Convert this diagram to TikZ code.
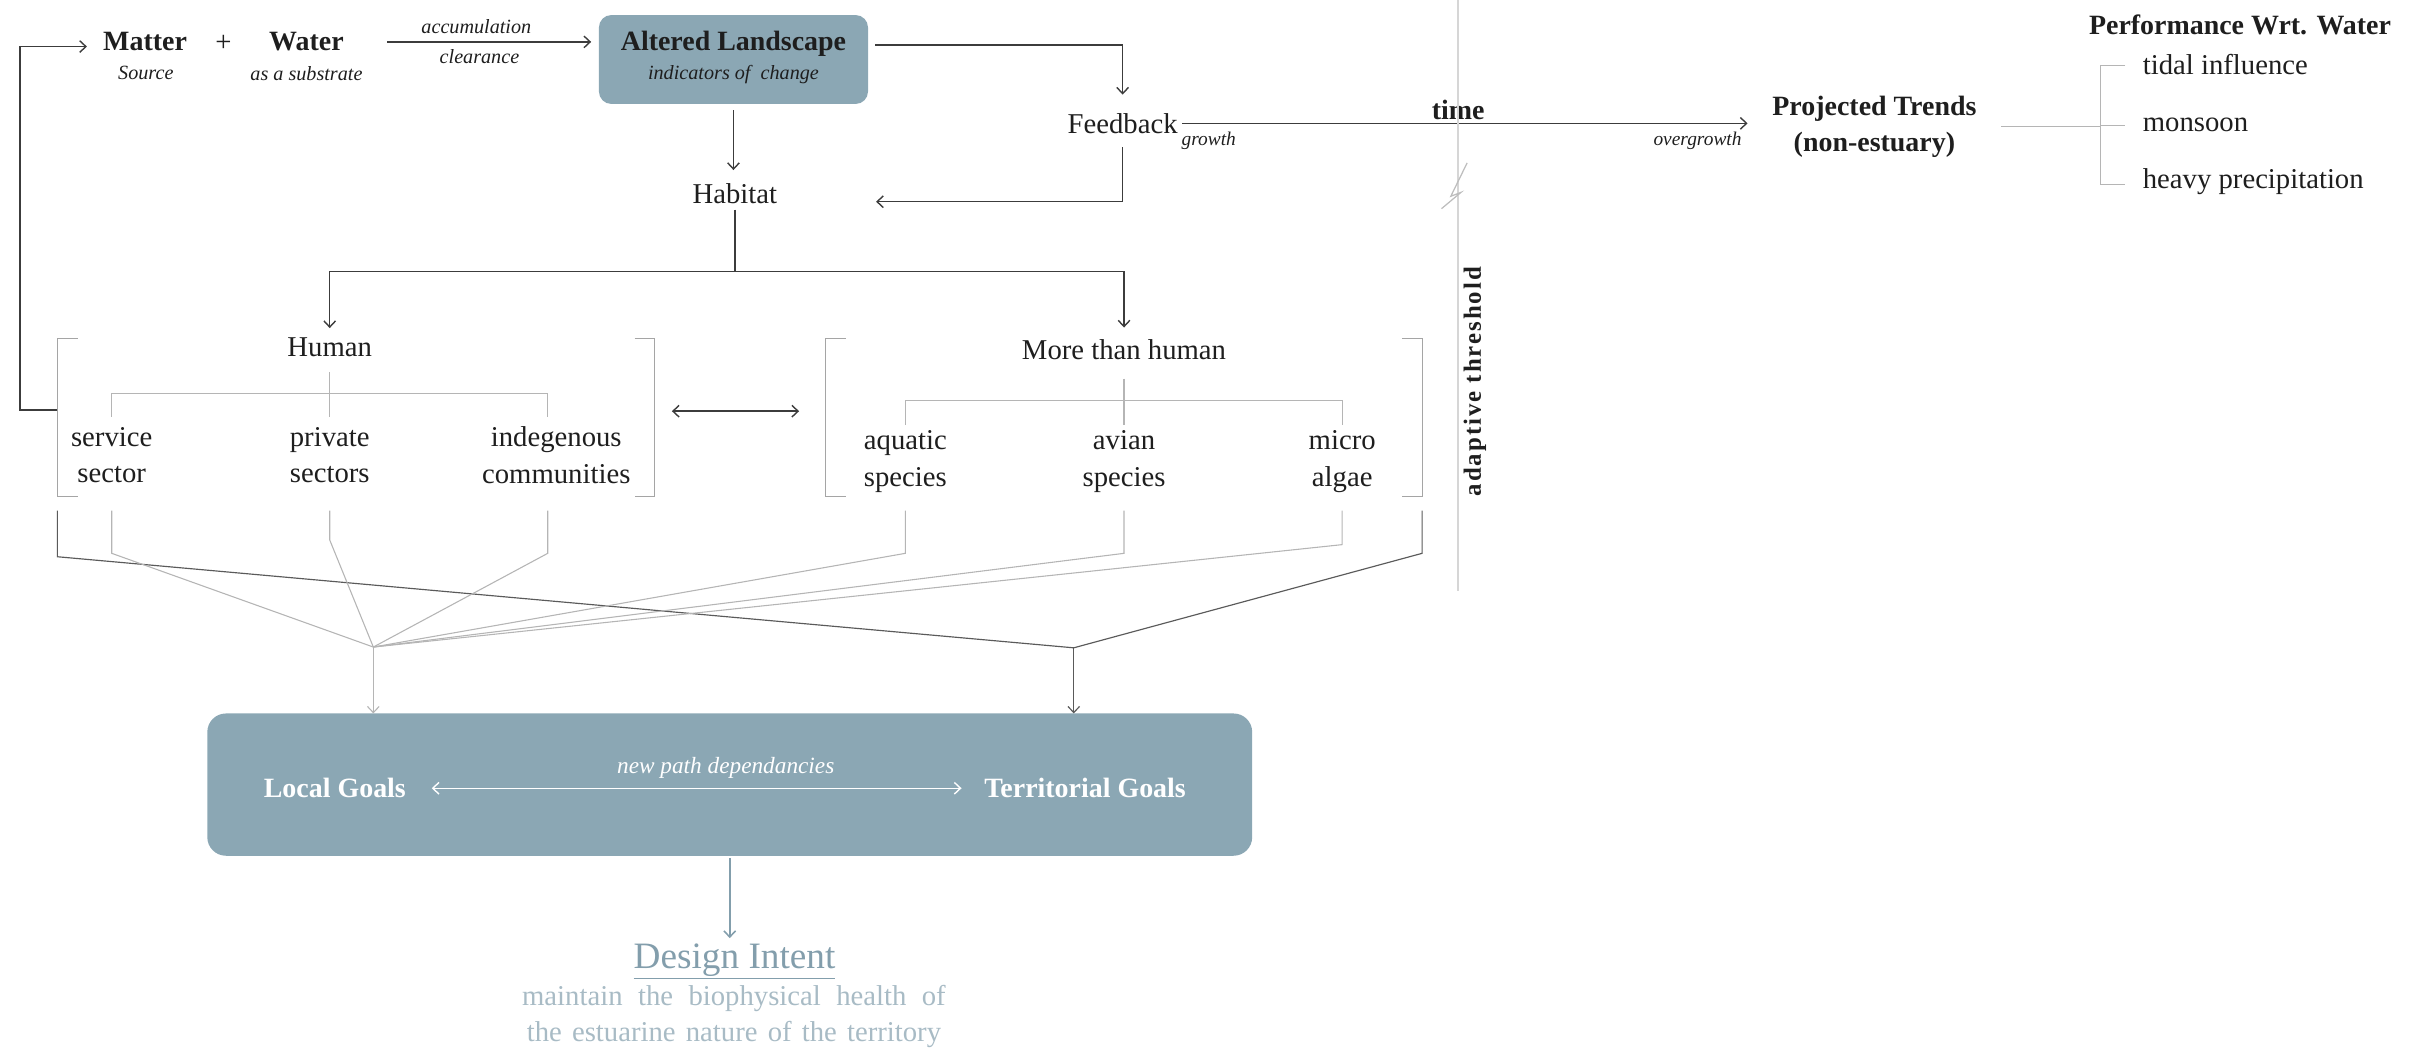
\documentclass[tikz,border=0pt]{standalone}
\usepackage{fontspec}
\setmainfont{Liberation Serif}
\usetikzlibrary{arrows.meta}

\definecolor{slate}{HTML}{8BA7B4}
\definecolor{slateink}{HTML}{839EAC}
\definecolor{slatesoft}{HTML}{A8BBC5}
\definecolor{inkline}{HTML}{3C3C3C}
\definecolor{midline}{HTML}{5A5A5A}
\definecolor{twiggrey}{HTML}{B5B5B5}
\definecolor{bracketgrey}{HTML}{A5A5A5}
\definecolor{hairline}{HTML}{D6D6D6}
\definecolor{breakgrey}{HTML}{BDBDBD}
\definecolor{textink}{HTML}{1E1E1E}

\newcommand\fsz[2]{\fontsize{#1}{#2}\selectfont}

\begin{document}
\begin{tikzpicture}[x=1pt, y=-1pt,
  every node/.style={inner sep=0pt, outer sep=0pt, text=textink},
  reg/.style={font=\fsz{18.5}{23.5}, align=center},
  boldtxt/.style={font=\bfseries\fsz{18}{23.5}, align=center},
  note/.style={font=\itshape\fsz{13}{15}},
  barb/.style={-{Straight Barb[length=4pt,width=7.5pt]}},
  barbs/.style={{Straight Barb[length=4pt,width=7.5pt]}-{Straight Barb[length=4pt,width=7.5pt]}},
  flow/.style={draw=inkline, line width=0.9pt},
  link/.style={draw=midline, line width=0.75pt},
  twigline/.style={draw=twiggrey, line width=0.7pt},
  bracket/.style={draw=bracketgrey, line width=0.7pt},
  panel/.style={fill=slate, draw=none},
]
\useasboundingbox (0,0) rectangle (1568,677);

% ---- source row
\node[boldtxt] (matter) at (93.5,27) {Matter};
\node[note] (source) at (94,47.3) {Source};
\node[reg] (plus) at (144,28) {+};
\node[boldtxt] (water) at (197.5,27) {Water};
\node[note] (substrate) at (197.5,47.3) {as a substrate};

\node[panel, rounded corners=8pt, minimum width=173.4pt, minimum height=57.3pt] (altered) at (472.7,38.35) {};
\node[boldtxt] (alteredT) at (472.7,27.9) {Altered Landscape};
\node[note] (alteredS) at (472.7,48.3) {indicators of\ \ change};

\coordinate (accStart) at (249.7,27);
\draw[flow,barb,shorten >=5pt] (accStart) -- (accStart -| altered.west);
\node[note] (accum) at (307,17.2) {accumulation};
\node[note] (clear) at (309,36.5) {clearance};

% ---- feedback loop
\node[reg] (feedback) at (723.5,79.5) {Feedback};
\draw[flow,barb,shorten >=12pt] ([xshift=4.6pt,yshift=9.35pt]altered.east) -| (feedback.north);

\node[reg] (habitat) at (473.6,124.6) {Habitat};
\draw[flow,barb,shorten <=4pt,shorten >=8.5pt] (altered.south) -- (altered.south |- habitat.north);

\coordinate (fbReturn) at (564.6,130);
\draw[flow,barb,shorten <=9pt] (feedback.south) |- (fbReturn);

% ---- time axis
\node[boldtxt] (trends) at (1208,81.75) {Projected Trends\\(non-estuary)};
\draw[flow,barb,shorten <=3pt,shorten >=16pt] (feedback.east) -- (feedback.east -| trends.west);
\node[boldtxt] (time) at (939.7,71) {time};
\node[font=\itshape\fsz{12.5}{15}] (growth) at (779,91) {growth};
\node[font=\itshape\fsz{12.5}{15}] (overgrowth) at (1094,91) {overgrowth};

% ---- performance with respect to water
\node[boldtxt] (perf) at (1443.6,16) {Performance Wrt. Water};
\node[reg, anchor=base west] (tidal) at (1381,47.7) {tidal influence};
\node[reg, anchor=base west] (monsoon) at (1381,84.9) {monsoon};
\node[reg, anchor=base west] (heavy) at (1381,121.4) {heavy precipitation};
\coordinate (pSpine) at (1353.5,80.6);
\draw[twigline, shorten <=16pt] (trends.east) -- (trends.east -| pSpine);
\draw[twigline] (1369.7,42) -- (1353.5,42) -- (1353.5,119) -- (1369.7,119)
  (pSpine) -- (1369.7,80.6);

% ---- threshold divider with its break mark
\draw[draw=hairline, line width=0.7pt] (939.6,0) -- (939.6,381);
\draw[draw=breakgrey, line width=0.8pt, line join=miter] (945.5,105) -- (935,126.5) -- (941.5,124) -- (929,134.5);
\node[font=\bfseries\fsz{16}{18}\addfontfeature{LetterSpace=8}, rotate=90] (threshold) at (950.5,246) {adaptive threshold};

% ---- habitat split
\coordinate (split) at (473.6,175);
\draw[flow, shorten <=4pt] (habitat.south) -- (split);
\node[reg] (human) at (212.5,223.6) {Human};
\node[reg] (mth) at (724.4,225.6) {More than human};
\draw[flow,barb,shorten >=6pt] (split) -| (human.north);
\draw[flow,barb,shorten >=8pt] (split) -| (mth.north);

% ---- groups and brackets
\node[minimum width=385pt, minimum height=102pt] (humgrp) at (229.5,269) {};
\node[minimum width=384.5pt, minimum height=102pt] (mthgrp) at (724.25,269) {};
\foreach \g in {humgrp,mthgrp} {
  \draw[bracket] ([xshift=13pt]\g.north west) -- (\g.north west) -- (\g.south west) -- ([xshift=13pt]\g.south west);
  \draw[bracket] ([xshift=-13pt]\g.north east) -- (\g.north east) -- (\g.south east) -- ([xshift=-13pt]\g.south east);
}
\draw[flow,barbs,shorten <=11pt,shorten >=17pt] ([yshift=4pt]humgrp.east) -- ([yshift=4pt]mthgrp.west);
\draw[flow,barb] ([yshift=4.8pt]humgrp.west) -- ++(-24,0) |- ([xshift=-10.5pt,yshift=-3pt]matter.west);

% ---- members
\node[reg] (service) at (72,293.25) {service\\sector};
\node[reg] (private) at (212.5,293.25) {private\\sectors};
\node[reg] (indig) at (358.5,293.25) {indegenous\\communities};
\node[reg] (aquatic) at (583.5,297.4) {aquatic\\species};
\node[reg] (avian) at (724.4,297.4) {avian\\species};
\node[reg] (algae) at (865,297.4) {micro\\algae};

\draw[twigline] (212.5,240) -- (212.5,268.6)
  (72,268.6) -- (72,253.5) -- (353,253.5) -- (353,268.6);
\draw[twigline] (724.4,244) -- (724.4,274)
  (583.5,274) -- (583.5,258) -- (865,258) -- (865,274);

% ---- convergence onto goals
\coordinate (lj) at (240.6,417);
\coordinate (rj) at (692,417.5);
\draw[link] ([yshift=-9pt]humgrp.south west) -- ++(0,29.8) -- (rj);
\draw[link] ([yshift=-9pt]mthgrp.south east) -- ++(0,27.6) -- (rj);
\draw[twigline] (72,329) -- (72,356.6) -- (lj);
\draw[twigline] (212.5,329) -- (212.5,348) -- (lj);
\draw[twigline] (353,329) -- (353,356.6) -- (lj);
\draw[twigline] (583.5,329) -- (583.5,356.6) -- (lj);
\draw[twigline] (724.4,329) -- (724.4,356.6) -- (lj);
\draw[twigline] (865,329) -- (865,351) -- (lj);

\node[panel, rounded corners=12pt, minimum width=673.4pt, minimum height=91.7pt] (goals) at (470.3,505.65) {};
\draw[twigline,barb] (lj) -- (lj |- goals.north);
\draw[link,barb] (rj) -- (rj |- goals.north);

\node[boldtxt, text=white] (local) at (215.8,508) {Local Goals};
\node[boldtxt, text=white] (territorial) at (699.3,508) {Territorial Goals};
\node[font=\itshape\fsz{15}{17}, text=white] (newpath) at (467.7,495) {new path dependancies};
\draw[draw=white, line width=0.9pt, barbs, shorten <=16.7pt, shorten >=14.7pt] (local.east) -- (territorial.west);

% ---- design intent
\node[font=\fsz{24}{28}, text=slateink, anchor=base] (design) at (473.4,624) {\underline{Design Intent}};
\draw[draw=slateink, line width=1pt, barb, shorten <=1.5pt, shorten >=3.5pt] (goals.south) -- (goals.south |- design.north);
\node[font=\fsz{18.5}{23}, text=slatesoft, anchor=base] (intentA) at (473,647.7) {\makebox[273pt][s]{maintain the biophysical health of}};
\node[font=\fsz{18.5}{23}, text=slatesoft, anchor=base] (intentB) at (473,671.3) {\makebox[267pt][s]{the estuarine nature of the territory}};
\end{tikzpicture}
\end{document}
